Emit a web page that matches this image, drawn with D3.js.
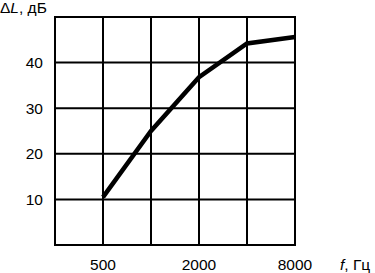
<!DOCTYPE html>
<html><head><meta charset="utf-8">
<script src="https://cdn.jsdelivr.net/npm/d3@7"></script>
<style>body{margin:0;background:#fff}svg{display:block}text{font-family:"Liberation Sans",Arial,sans-serif;font-size:15.5px;fill:#000}</style>
</head><body><svg id="c" width="375" height="273"></svg>
<script>
const freqs = [500, 1000, 2000, 4000, 8000];
const deltaL = [10.5, 25, 36.8, 44.2, 45.6];
const xGrid = [250, 500, 1000, 2000, 4000, 8000];
const xTickLabels = [500, 2000, 8000];
const yTicks = [10, 20, 30, 40];
const yGrid = [0, 10, 20, 30, 40, 50];

const svg = d3.select("#c");
const x = d3.scaleLog().base(2).domain([250, 8000]).range([55, 295]);
const y = d3.scaleLinear().domain([0, 50]).range([245, 17]);

const g = svg.append("g");
g.selectAll("line.v").data(xGrid).join("line")
  .attr("x1", d => x(d)).attr("x2", d => x(d)).attr("y1", y(0)).attr("y2", y(50))
  .attr("stroke", "#000").attr("stroke-width", 2);
g.selectAll("line.h").data(yGrid).join("line")
  .attr("y1", d => y(d)).attr("y2", d => y(d)).attr("x1", x(250) - 1).attr("x2", x(8000) + 1)
  .attr("stroke", "#000").attr("stroke-width", 2);

svg.append("g").selectAll("text").data(yTicks).join("text")
  .attr("x", 43).attr("y", d => y(d)).attr("dy", "0.35em").attr("text-anchor", "end").text(d => d);
svg.append("g").selectAll("text").data(xTickLabels).join("text")
  .attr("x", d => x(d)).attr("y", 270).attr("text-anchor", "middle").text(d => d);

const line = d3.line().x((d, i) => x(freqs[i])).y(d => y(d));
svg.append("path").datum(deltaL).attr("d", line).attr("fill", "none")
  .attr("stroke", "#000").attr("stroke-width", 4.5).attr("stroke-linejoin", "miter");

const yl = svg.append("text").attr("x", 0).attr("y", 13);
yl.append("tspan").text("Δ");
yl.append("tspan").attr("font-style", "italic").text("L");
yl.append("tspan").text(", дБ");
const xl = svg.append("text").attr("x", 340).attr("y", 270);
xl.append("tspan").attr("font-style", "italic").text("f");
xl.append("tspan").text(", Гц");
</script></body></html>
